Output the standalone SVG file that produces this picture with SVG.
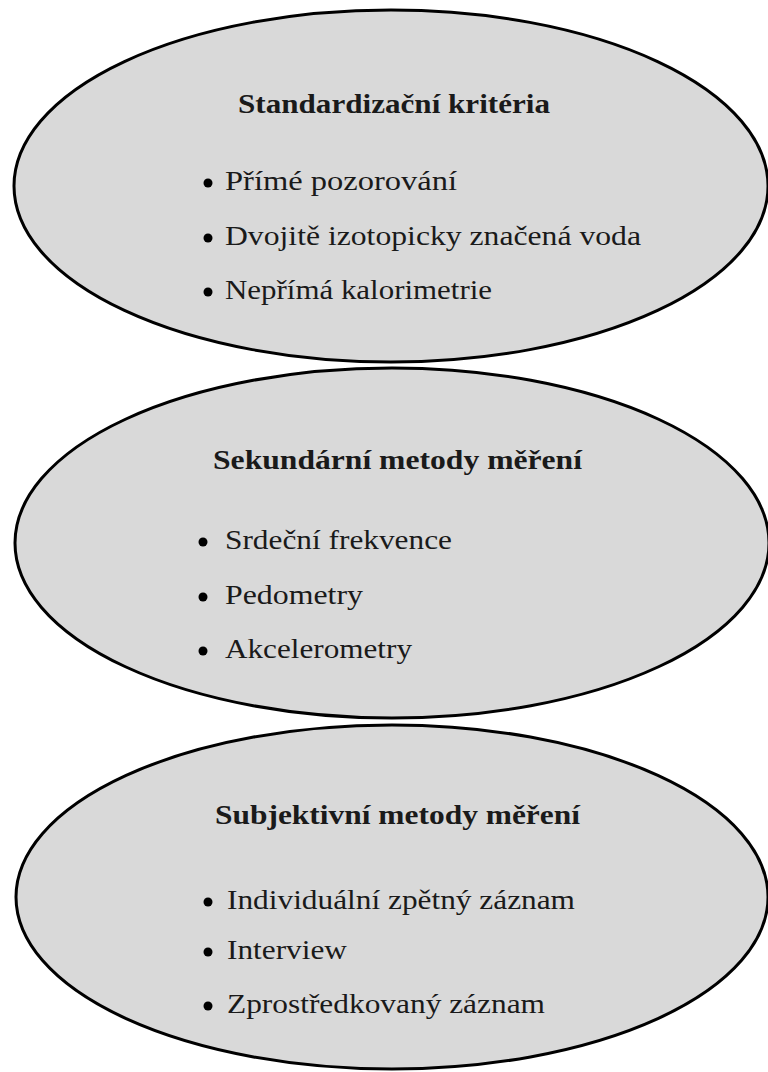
<svg xmlns="http://www.w3.org/2000/svg" width="768" height="1072" viewBox="0 0 768 1072">
<style>
.ell{fill:#d9d9d9;stroke:#000;stroke-width:3}
.t{font-family:"Liberation Serif","Times New Roman",serif;font-size:28px;fill:#1a1a1a}
.h{font-weight:bold;text-anchor:start}
.dot{fill:#000}
</style>
<rect width="768" height="1072" fill="#fff"/>
<g id="node-standard">
<ellipse class="ell" cx="391" cy="186" rx="377" ry="176"/>
<text class="t h" x="238" y="113" textLength="312" lengthAdjust="spacingAndGlyphs">Standardizační kritéria</text>
<circle class="dot" cx="208" cy="183" r="4.5"/>
<text class="t" x="225" y="190" textLength="232" lengthAdjust="spacingAndGlyphs">Přímé pozorování</text>
<circle class="dot" cx="208" cy="238" r="4.5"/>
<text class="t" x="225" y="245" textLength="416" lengthAdjust="spacingAndGlyphs">Dvojitě izotopicky značená voda</text>
<circle class="dot" cx="208" cy="292" r="4.5"/>
<text class="t" x="225" y="299" textLength="267" lengthAdjust="spacingAndGlyphs">Nepřímá kalorimetrie</text>
</g>
<g id="node-sekundarni">
<ellipse class="ell" cx="392" cy="543" rx="377" ry="175"/>
<text class="t h" x="213" y="469" textLength="369" lengthAdjust="spacingAndGlyphs">Sekundární metody měření</text>
<circle class="dot" cx="203" cy="542" r="4.5"/>
<text class="t" x="225" y="549" textLength="227" lengthAdjust="spacingAndGlyphs">Srdeční frekvence</text>
<circle class="dot" cx="203" cy="597" r="4.5"/>
<text class="t" x="225" y="604" textLength="138" lengthAdjust="spacingAndGlyphs">Pedometry</text>
<circle class="dot" cx="203" cy="651" r="4.5"/>
<text class="t" x="225" y="658" textLength="187" lengthAdjust="spacingAndGlyphs">Akcelerometry</text>
</g>
<g id="node-subjektivni">
<ellipse class="ell" cx="392" cy="897" rx="376" ry="172"/>
<text class="t h" x="215" y="824" textLength="365" lengthAdjust="spacingAndGlyphs">Subjektivní metody měření</text>
<circle class="dot" cx="208" cy="902" r="4.5"/>
<text class="t" x="227" y="909" textLength="348" lengthAdjust="spacingAndGlyphs">Individuální zpětný záznam</text>
<circle class="dot" cx="208" cy="952" r="4.5"/>
<text class="t" x="227" y="959" textLength="120" lengthAdjust="spacingAndGlyphs">Interview</text>
<circle class="dot" cx="208" cy="1006" r="4.5"/>
<text class="t" x="227" y="1013" textLength="318" lengthAdjust="spacingAndGlyphs">Zprostředkovaný záznam</text>
</g>
<g id="connectors"></g>
</svg>
